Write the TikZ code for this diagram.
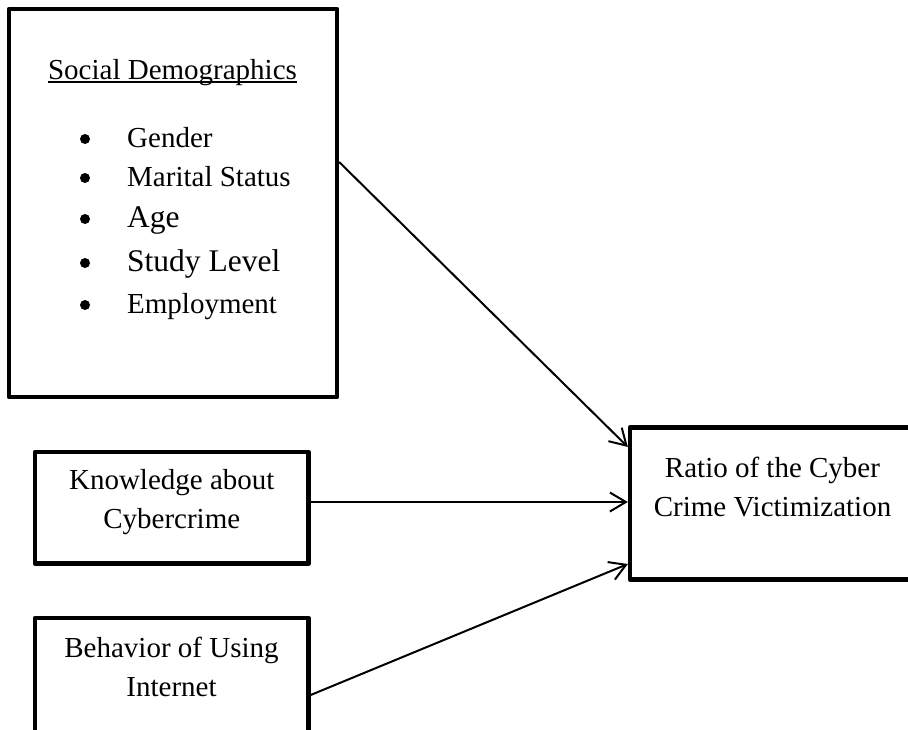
\documentclass[tikz,border=0pt]{standalone}
\usepackage{fontspec}
\setmainfont{Liberation Serif}
\usetikzlibrary{arrows.meta}
\begin{document}
\begin{tikzpicture}[x=1pt,y=-1pt,
  box/.style={draw, line width=4.3pt, inner sep=0pt, line join=round},
  arr/.style={line width=2pt, -{Straight Barb[length=16pt,width=19pt]}},
  txt/.style={inner sep=0pt, font=\fontsize{29}{39}\selectfont, align=center},
  big/.style={inner sep=0pt, font=\fontsize{31.5}{39}\selectfont},
  dot/.style={circle, fill, inner sep=0pt, minimum size=10pt}
]
\useasboundingbox (0,0) rectangle (908,729);
\clip (0,0) rectangle (908,729);
% boxes
\node[box, minimum width=328pt, minimum height=388pt] (soc) at (173,203) {};
\node[box, minimum width=273.5pt, minimum height=111.5pt] (know) at (171.75,507.75) {};
\node[box, minimum width=273.5pt, minimum height=122pt] (beh) at (171.75,679) {};
\node[box, minimum width=285pt, minimum height=152pt] (rat) at (772.5,503.5) {};
% social demographics text
\node[txt, anchor=base] (sdt) at (172.5,79) {Social Demographics};
\draw[line width=1.8pt] ([yshift=-3pt]sdt.base west) -- ([yshift=-3pt]sdt.base east);
\node[dot] (b1) at (85,139) {};
\node[dot] (b2) at (85,178) {};
\node[dot] (b3) at (85,219) {};
\node[dot] (b4) at (85,263) {};
\node[dot] (b5) at (85,305) {};
\node[txt, anchor=base west] (i1) at (127,147) {Gender};
\node[txt, anchor=base west] (i2) at (127,186) {Marital Status};
\node[big, anchor=base west] (i3) at (127,227) {Age};
\node[big, anchor=base west] (i4) at (127,271) {Study Level};
\node[txt, anchor=base west] (i5) at (127,313) {Employment};
% other texts
\node[txt] (kt) at (171.75,501.75) {Knowledge about\\Cybercrime};
\node[txt] (bt) at (171.5,666.6) {Behavior of Using\\Internet};
\node[txt] (rt) at (772.5,486.6) {Ratio of the Cyber\\Crime Victimization};
% connector levels
\coordinate (ya) at (0,162);
\coordinate (yb) at (0,447);
\coordinate (yc) at (0,502);
\coordinate (yd) at (0,695);
\coordinate (ye) at (0,564);
\draw[arr] (soc.east |- ya) -- (rat.west |- yb);
\draw[arr] (know.east |- yc) -- (rat.west |- yc);
\draw[arr] (beh.east |- yd) -- (rat.west |- ye);
\end{tikzpicture}
\end{document}
